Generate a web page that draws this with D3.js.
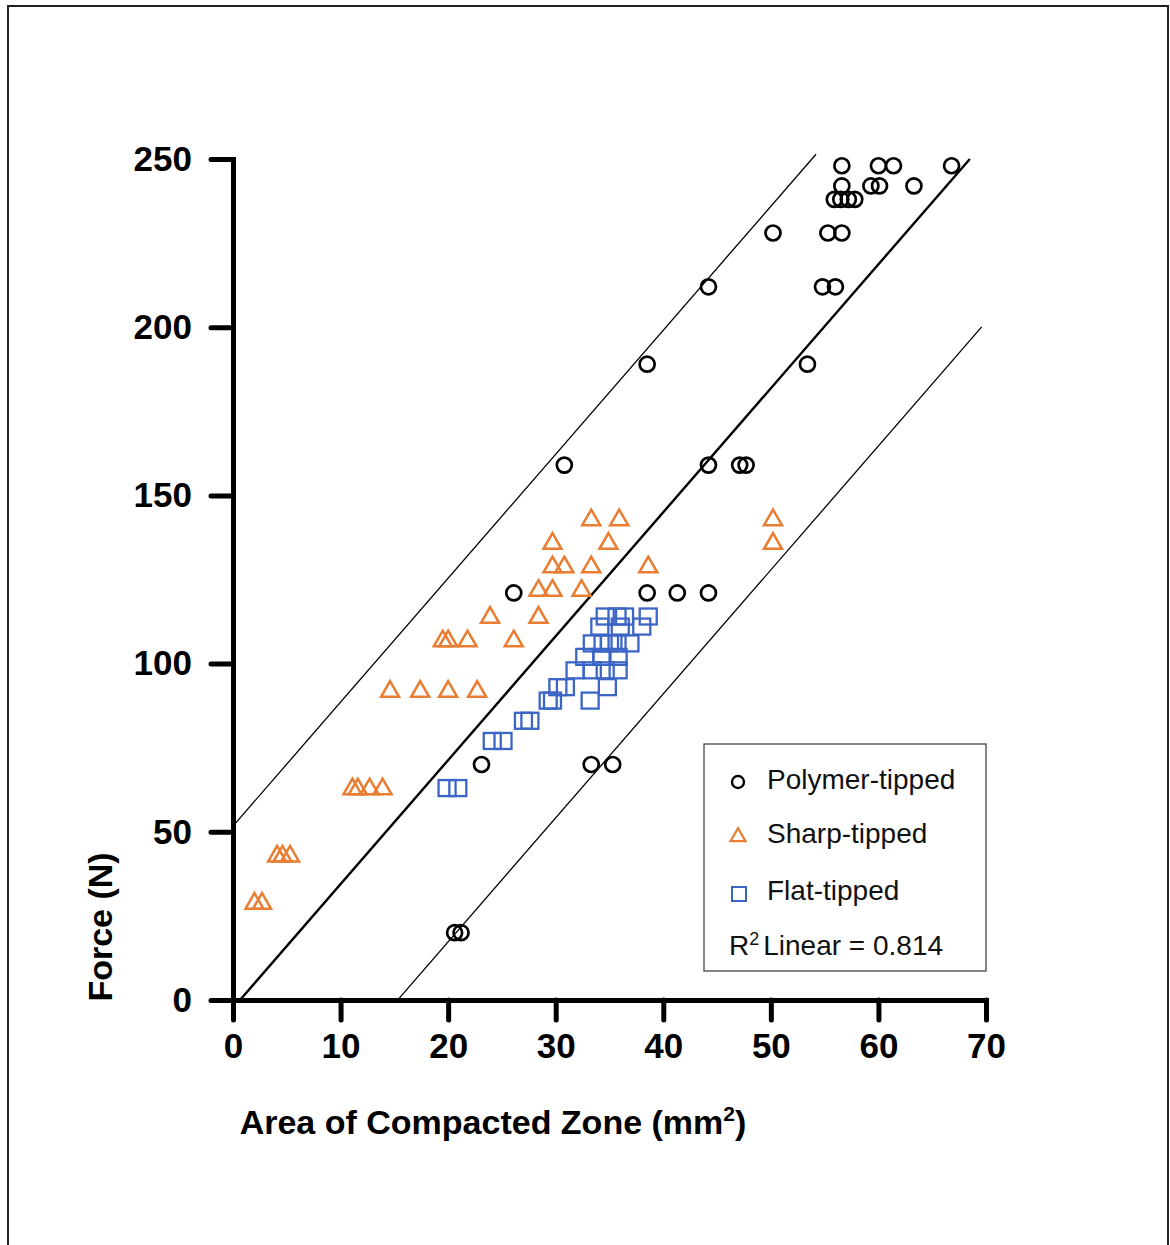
<!DOCTYPE html>
<html>
<head>
<meta charset="utf-8">
<script src="https://cdn.jsdelivr.net/npm/d3@7"></script>
<style>
    body { margin: 0; background: #fff; }
    svg { display: block; font-family: "Liberation Sans", Arial, Helvetica, sans-serif; }
</style>
</head>
<body>
<div id="chart"></div>
<script>
// DATA
var polymerX = [56.6, 60.0, 61.4, 66.8, 56.6, 59.3, 60.1, 63.3, 55.9, 56.5, 57.2, 57.8,
    50.2, 55.3, 56.6, 54.8, 56.0, 44.2, 38.5, 53.4, 30.8, 44.2, 47.1, 47.7,
    26.1, 38.5, 41.3, 44.2, 23.1, 33.3, 35.3, 20.6, 21.2];
var polymerY = [248, 248, 248, 248, 242, 242, 242, 242, 238, 238, 238, 238,
    228, 228, 228, 212, 212, 212, 189, 189, 159, 159, 159, 159,
    121, 121, 121, 121, 70, 70, 70, 20, 20];

var sharpX = [33.3, 35.9, 50.2, 29.7, 34.9, 50.2, 29.7, 30.8, 33.3, 38.6,
    28.4, 29.7, 32.4, 23.9, 28.4, 19.5, 20.0, 21.8, 26.1,
    14.6, 17.4, 20.0, 22.7, 11.1, 11.6, 12.7, 13.9, 4.1, 4.6, 5.3, 2.0, 2.7];
var sharpY = [143, 143, 143, 136, 136, 136, 129, 129, 129, 129,
    122, 122, 122, 114, 114, 107, 107, 107, 107,
    92, 92, 92, 92, 63, 63, 63, 63, 43, 43, 43, 29, 29];

var flatX = [34.6, 35.7, 36.4, 38.6, 34.1, 36.0, 38.0, 33.4, 34.4, 35.0, 35.7, 36.9,
    32.7, 34.3, 35.8, 31.8, 33.4, 34.6, 35.8, 30.2, 30.9, 34.8,
    29.3, 29.7, 33.2, 27.0, 27.6, 24.1, 25.1, 19.9, 20.9];
var flatY = [114, 114, 114, 114, 111, 111, 111, 106, 106, 106, 106, 106,
    102, 102, 102, 98, 98, 98, 98, 93, 93, 93,
    89, 89, 89, 83, 83, 77, 77, 63, 63];

// fit line + prediction bounds: y = slope * x + intercept
var fitSlope = 3.685;
var fitIntercepts = [51.7, -2.4, -56.4];
var fitXStart = [0, 0.65, 15.3];
var fitXEnd = [54.2, 68.5, 69.6];

var xTicks = [0, 10, 20, 30, 40, 50, 60, 70];
var yTicks = [0, 50, 100, 150, 200, 250];
var seriesNames = ['Polymer-tipped', 'Sharp-tipped', 'Flat-tipped'];
var rSquared = 0.814;

// SVG
var W = 1170, H = 1245;
var svg = d3.select('#chart')
    .append('svg')
    .attr('width', W)
    .attr('height', H);

// frame
svg.append('rect')
    .attr('x', 8).attr('y', 6)
    .attr('width', W - 10).attr('height', H + 10)
    .attr('fill', 'none')
    .attr('stroke', '#222')
    .attr('stroke-width', 2);

var xScale = d3.scaleLinear().domain([0, 70]).range([233, 986]);
var yScale = d3.scaleLinear().domain([0, 250]).range([1000, 159]);

var orange = '#e97d31', blue = '#3c66c6';

// fit lines
var lineWidths = [1.3, 2.4, 1.3];
fitIntercepts.forEach(function (b, i) {
    svg.append('line')
        .attr('x1', xScale(fitXStart[i]))
        .attr('y1', yScale(fitSlope * fitXStart[i] + b))
        .attr('x2', xScale(fitXEnd[i]))
        .attr('y2', yScale(fitSlope * fitXEnd[i] + b))
        .attr('stroke', '#000')
        .attr('stroke-width', lineWidths[i]);
});

// axes
var xAxis = svg.append('g')
    .attr('transform', 'translate(0,' + yScale(0) + ')')
    .call(d3.axisBottom(xScale).tickValues(xTicks).tickSize(20).tickSizeOuter(0).tickPadding(13));
var yAxis = svg.append('g')
    .attr('transform', 'translate(' + xScale(0) + ',0)')
    .call(d3.axisLeft(yScale).tickValues(yTicks).tickSize(22).tickSizeOuter(0).tickPadding(19));

[xAxis, yAxis].forEach(function (a) {
    a.select('.domain').attr('stroke', '#000').attr('stroke-width', 5).attr('stroke-linecap', 'square');
    a.selectAll('.tick line').attr('stroke', '#000').attr('stroke-width', 5).attr('stroke-linecap', 'round');
    a.selectAll('.tick text')
        .attr('fill', '#000')
        .style('font-size', '35px')
        .style('font-weight', 'bold')
        .style('font-family', '"Liberation Sans", Arial, sans-serif');
});

// axis titles
var xt = svg.append('text')
    .attr('x', 493).attr('y', 1134)
    .attr('text-anchor', 'middle')
    .style('font-size', '34px')
    .style('font-weight', 'bold');
xt.append('tspan').text('Area of Compacted Zone (mm');
xt.append('tspan').attr('dy', -13).style('font-size', '21px').text('2');
xt.append('tspan').attr('dy', 13).text(')');

svg.append('text')
    .attr('transform', 'translate(112, 927)rotate(-90)')
    .attr('text-anchor', 'middle')
    .style('font-size', '34px')
    .style('font-weight', 'bold')
    .text('Force (N)');

// markers
function trianglePath(s) {
    var h = s * 0.87;
    return 'M0,' + (-h * 0.6) + 'L' + (s / 2) + ',' + (h * 0.4) + 'L' + (-s / 2) + ',' + (h * 0.4) + 'Z';
}

var g = svg.append('g');

g.selectAll('circle.poly')
    .data(d3.range(polymerX.length))
    .enter()
    .append('circle')
    .attr('class', 'poly')
    .attr('cx', function (i) { return xScale(polymerX[i]); })
    .attr('cy', function (i) { return yScale(polymerY[i]); })
    .attr('r', 7.5)
    .attr('fill', 'none')
    .attr('stroke', '#000')
    .attr('stroke-width', 2.7);

g.selectAll('path.sharp')
    .data(d3.range(sharpX.length))
    .enter()
    .append('path')
    .attr('class', 'sharp')
    .attr('transform', function (i) {
        return 'translate(' + xScale(sharpX[i]) + ',' + yScale(sharpY[i]) + ')';
    })
    .attr('d', trianglePath(18))
    .attr('fill', 'none')
    .attr('stroke', orange)
    .attr('stroke-width', 2.5)
    .attr('stroke-linejoin', 'miter');

g.selectAll('rect.flat')
    .data(d3.range(flatX.length))
    .enter()
    .append('rect')
    .attr('class', 'flat')
    .attr('x', function (i) { return xScale(flatX[i]) - 8.5; })
    .attr('y', function (i) { return yScale(flatY[i]) - 8; })
    .attr('width', 17)
    .attr('height', 16)
    .attr('fill', 'none')
    .attr('stroke', blue)
    .attr('stroke-width', 2.3);

// legend
var lg = svg.append('g');
lg.append('rect')
    .attr('x', 704).attr('y', 744)
    .attr('width', 282).attr('height', 227)
    .attr('fill', '#fff')
    .attr('stroke', '#444')
    .attr('stroke-width', 1.3);

var legendY = [782, 836, 893];
lg.append('circle')
    .attr('cx', 738).attr('cy', legendY[0]).attr('r', 6)
    .attr('fill', 'none').attr('stroke', '#000').attr('stroke-width', 2.4);
lg.append('path')
    .attr('transform', 'translate(738,' + legendY[1] + ')')
    .attr('d', trianglePath(15))
    .attr('fill', 'none').attr('stroke', orange).attr('stroke-width', 2.2);
lg.append('rect')
    .attr('x', 732).attr('y', legendY[2] - 6).attr('width', 14).attr('height', 14)
    .attr('fill', 'none').attr('stroke', blue).attr('stroke-width', 2);

seriesNames.forEach(function (n, i) {
    lg.append('text')
        .attr('x', 767).attr('y', legendY[i] + 7)
        .style('font-size', '28px')
        .attr('fill', '#111')
        .text(n);
});

var rt = lg.append('text')
    .attr('x', 729).attr('y', 955)
    .style('font-size', '28px')
    .attr('fill', '#111');
rt.append('tspan').text('R');
rt.append('tspan').attr('dy', -10).style('font-size', '18px').text('2');
rt.append('tspan').attr('dy', 10).attr('dx', 4).text('Linear = ' + rSquared);
</script>
</body>
</html>
